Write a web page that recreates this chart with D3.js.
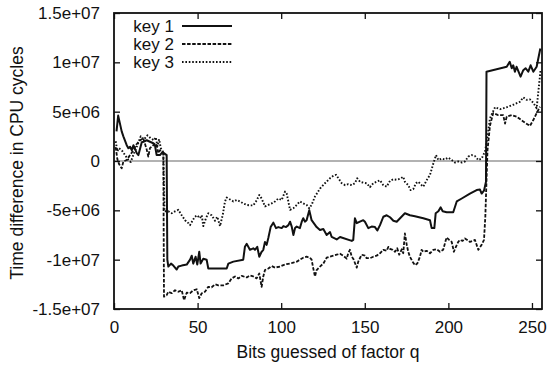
<!DOCTYPE html>
<html>
<head>
<meta charset="utf-8">
<script src="https://cdn.jsdelivr.net/npm/d3@7"></script>
<style>
  body { margin: 0; background: #fff; }
  svg text { font-family: "Liberation Sans", Arial, Helvetica, sans-serif; fill: #111; }
</style>
</head>
<body>
<script>
// values: [bit, time difference in millions of cycles]
var key1 = [[1.5,3.0],[2.5,4.6],[4.6,3.0],[5.6,2.5],[7.6,1.6],[8.6,1.3],[9.6,1.45],[10.6,1.1],[11.6,1.6],[13.6,0.8],[14.6,0.6],[16.6,1.9],[17.6,1.95],[19.6,2.1],[21.5,1.95],[23.5,1.8],[24.5,1.6],[25.5,0.6],[27.5,0.6],[29,0.9],[31.5,0.6],[31.9,-10.0],[32.5,-10.7],[34.1,-10.4],[35.5,-10.6],[37.5,-11.0],[38.5,-10.7],[40.5,-10.6],[43.5,-10.5],[45.5,-10.0],[46.5,-9.6],[47.4,-10.4],[48.8,-9.7],[49.8,-10.5],[51.0,-9.2],[51.8,-10.4],[53.4,-9.9],[55.4,-10.0],[56.4,-10.9],[67.4,-10.9],[68.4,-10.4],[71.4,-10.2],[77.3,-10.0],[78.3,-8.7],[79.4,-8.4],[81.3,-9.0],[83.3,-8.85],[84.3,-9.0],[85.7,-8.7],[86.9,-9.7],[88.3,-9.2],[89.3,-9.0],[90.3,-8.2],[91.3,-8.5],[92.3,-7.8],[93.7,-6.7],[95.3,-6.25],[96.9,-6.8],[98.3,-6.7],[100.3,-6.8],[101.3,-6.6],[102.9,-6.7],[104.3,-6.5],[105.3,-6.15],[106.3,-6.65],[107.3,-7.5],[108.3,-6.8],[109.3,-6.65],[111.2,-6.8],[112.3,-6.15],[113.2,-5.8],[114.2,-6.15],[115.2,-6.0],[116.8,-5.0],[118.2,-6.0],[121.2,-6.7],[123.2,-7.0],[125.2,-6.9],[127.2,-7.5],[129.2,-7.2],[130.2,-7.7],[133.2,-7.95],[135.2,-7.7],[142.2,-8.1],[143.1,-8.0],[144.1,-5.8],[145.2,-6.3],[147.1,-6.15],[149.1,-6.0],[150.1,-6.15],[152.1,-6.8],[154.1,-6.65],[156.1,-6.7],[157.5,-7.05],[159.1,-6.5],[161.1,-5.65],[163.1,-5.5],[165.1,-5.7],[167.1,-6.05],[169.1,-6.15],[171.1,-5.8],[174.0,-5.3],[177.0,-5.5],[180.0,-5.6],[185.0,-5.8],[189.0,-6.0],[190.0,-6.8],[191.6,-6.8],[192.4,-5.3],[194.0,-5.1],[195.4,-4.7],[196.6,-5.1],[199.0,-5.2],[202.9,-5.2],[205.0,-4.1],[208.0,-3.8],[212.9,-3.3],[216.9,-2.95],[218.9,-2.9],[219.9,-3.3],[221.3,-3.0],[222.5,-2.1],[222.8,9.05],[234.9,9.55],[236.7,10.06],[237.9,9.4],[238.8,9.7],[239.8,9.05],[240.8,9.55],[243.2,8.55],[244.8,9.2],[246.2,9.4],[247.8,9.05],[249.2,9.7],[250.8,9.05],[252.8,9.55],[255,11.4]];

var key2 = [[1,1.4],[2,0.2],[3,-0.3],[4.6,-0.75],[5.6,-0.05],[7.6,0.1],[9.6,0.6],[11.6,1.1],[13.5,1.7],[15.6,2.1],[17.5,2.3],[19.5,1.2],[20.5,0.45],[21.5,1.3],[23.5,1.6],[24.5,1.8],[25.5,1.6],[26.5,0.8],[27.5,1.1],[28.5,0.95],[29.5,0.8],[29.9,-13.75],[31.5,-13.6],[32.5,-13.25],[34.5,-13.4],[36.5,-13.1],[38.5,-13.25],[40.5,-13.1],[41.9,-14.1],[43.5,-13.35],[45.5,-13.4],[47.4,-13.1],[49.5,-13.0],[51.0,-13.9],[52.5,-13.4],[54.4,-13.25],[56.4,-12.75],[58.4,-12.8],[60.4,-12.5],[62.4,-12.6],[65.4,-12.6],[68.4,-12.4],[70.4,-11.9],[72.4,-11.7],[74.4,-11.9],[76.4,-11.65],[79.4,-11.8],[81.3,-11.6],[83.3,-11.7],[85.3,-11.9],[86.9,-11.4],[88.3,-12.75],[89.3,-11.7],[90.3,-11.05],[92.3,-10.9],[94.3,-10.65],[96.3,-10.8],[99.3,-10.7],[101.3,-10.55],[103.3,-10.45],[105.3,-10.4],[107.2,-10.3],[109.3,-10.2],[111.2,-10.0],[113.2,-9.8],[115.2,-9.7],[117.2,-9.8],[118.2,-10.0],[119.2,-10.9],[120.2,-11.7],[121.2,-11.05],[123.2,-10.7],[125.2,-10.4],[127.2,-9.8],[129.2,-9.7],[131.2,-9.6],[133.2,-9.5],[135.2,-9.4],[137.1,-9.6],[139.2,-9.9],[140.1,-9.35],[141.1,-9.0],[142.2,-9.7],[143.1,-9.9],[145.2,-10.8],[146.1,-10.2],[148.1,-9.5],[150.1,-9.6],[151.1,-9.85],[153.1,-9.85],[155.1,-9.7],[157.1,-9.6],[159.1,-9.35],[161.1,-9.0],[163.1,-9.1],[164.1,-8.7],[165.1,-8.9],[166.7,-9.0],[168.1,-9.2],[169.4,-8.85],[170.6,-9.5],[172.1,-8.95],[173.0,-9.35],[174.0,-7.35],[175.1,-8.5],[176.0,-9.2],[177.0,-9.7],[178.6,-10.2],[180.0,-10.55],[181.4,-10.4],[183.0,-9.7],[184.0,-9.0],[185.0,-9.2],[187.0,-9.1],[189.0,-9.35],[191.0,-9.0],[193.0,-8.95],[195.0,-9.2],[196.9,-9.0],[198.9,-7.75],[200.5,-8.0],[202.0,-8.2],[203.3,-9.2],[204.5,-8.7],[205.9,-8.2],[206.9,-8.0],[208.5,-8.1],[209.9,-7.85],[211.3,-8.0],[212.9,-8.2],[214.5,-8.1],[215.9,-8.0],[217.3,-8.7],[217.9,-9.0],[219.9,-8.5],[221.3,-8.0],[222.1,-5.65],[223.4,1.1],[224.9,3.6],[226.8,4.85],[229.8,4.65],[232.8,4.65],[233.9,3.8],[234.9,4.5],[237.9,4.65],[240.8,4.5],[244.8,4.0],[248.8,3.55],[250.8,4.15],[252.8,4.85],[254.8,5.5]];

var key3 = [[1,2.0],[2,1.0],[3,1.3],[5,1.0],[7,0.5],[9,0.0],[10,-0.1],[12,0.8],[14,1.6],[16,2.5],[18,2.2],[20,2.6],[22,2.3],[24,2.1],[25,2.4],[26,1.5],[27,2.2],[28,1.3],[29.5,0.9],[30.2,-5.1],[32.5,-5.1],[34.5,-5.3],[36.5,-5.1],[38.5,-4.95],[40.5,-5.5],[42.5,-6.0],[44.5,-6.3],[45.5,-6.5],[47.1,-6.0],[48.4,-5.65],[49.8,-5.5],[51.4,-5.8],[52.5,-5.5],[53.4,-6.6],[55.0,-5.8],[56.4,-5.3],[58.4,-5.5],[60.4,-6.05],[61.8,-5.65],[63.4,-6.6],[65.0,-5.5],[66.4,-4.1],[67.4,-3.7],[69.4,-3.9],[71.4,-4.1],[73.4,-3.95],[75.4,-4.1],[77.3,-4.3],[79.4,-4.45],[81.3,-4.5],[83.3,-4.5],[85.3,-4.0],[86.9,-3.45],[88.3,-3.8],[90.3,-4.6],[92.3,-4.45],[94.3,-4.3],[96.3,-4.1],[98.3,-3.8],[100.3,-3.95],[102.3,-3.1],[103.3,-3.3],[105.3,-4.95],[107.2,-4.8],[109.3,-4.45],[111.2,-4.1],[113.2,-4.3],[115.2,-4.45],[116.8,-4.8],[118.2,-4.45],[120.2,-3.6],[123.2,-2.8],[126.2,-2.25],[129.2,-1.75],[131.2,-1.5],[132.8,-1.4],[134.2,-1.75],[136.2,-2.25],[138.2,-2.45],[140.1,-2.35],[142.2,-2.45],[144.1,-2.25],[145.5,-1.75],[147.1,-2.1],[149.1,-2.2],[151.1,-2.25],[153.1,-2.65],[155.1,-2.25],[157.1,-2.1],[159.1,-1.95],[161.1,-2.45],[163.1,-2.6],[165.1,-2.0],[167.1,-1.85],[169.1,-1.9],[171.1,-1.8],[173.0,-1.6],[174.0,-2.1],[176.0,-2.45],[177.4,-2.95],[179.0,-2.85],[180.6,-2.25],[182.0,-2.1],[184.0,-2.45],[185.0,-2.6],[187.0,-1.95],[189.0,-1.4],[191.0,-0.25],[192.6,0.6],[194.0,0.1],[196.0,0.25],[198.0,0.15],[199.9,0.35],[202.0,0.1],[203.9,-0.15],[205.9,-0.05],[208.0,-0.15],[209.9,-0.05],[211.9,0.45],[213.9,0.6],[215.9,0.5],[217.9,0.1],[219.9,0.25],[221.9,0.95],[223.1,2.1],[224.9,4.35],[227.9,5.45],[230.9,5.25],[234.9,5.45],[238.8,5.7],[242.8,6.0],[244.8,6.45],[246.8,6.2],[248.8,6.25],[250.8,5.9],[252.8,5.35],[255.2,9.3]];

var seriesNames = ["key 1", "key 2", "key 3"];
var xTicks = [0, 50, 100, 150, 200, 250];
var yTicks = [-1.5e7, -1e7, -5e6, 0, 5e6, 1e7, 1.5e7];
var yTickLabels = ["-1.5e+07", "-1e+07", "-5e+06", "0", "5e+06", "1e+07", "1.5e+07"];
var xTitle = "Bits guessed of factor q";
var yTitle = "Time difference in CPU cycles";

var W = 550, H = 368;
var margin = {top: 13, right: 8, bottom: 59, left: 114};
var width = W - margin.left - margin.right,
    height = H - margin.top - margin.bottom;

var svg = d3.select("body").append("svg")
  .attr("width", W)
  .attr("height", H);

var g = svg.append("g")
  .attr("transform", "translate(" + margin.left + "," + margin.top + ")");

var x = d3.scaleLinear().domain([0, 256]).range([0, width]);
var y = d3.scaleLinear().domain([-1.5e7, 1.5e7]).range([height, 0]);

// zero axis line
g.append("line")
  .attr("x1", 0).attr("x2", width)
  .attr("y1", y(0)).attr("y2", y(0))
  .attr("stroke", "#666").attr("stroke-width", 1.1);

// axes, ticks pointing inwards (gnuplot style), mirrored
var fontSize = "17px";
var xAxis = g.append("g")
  .attr("transform", "translate(0," + height + ")")
  .call(d3.axisBottom(x).tickValues(xTicks).tickSize(-6).tickPadding(12));
var yAxis = g.append("g")
  .call(d3.axisLeft(y).tickValues(yTicks).tickSize(-6).tickPadding(14)
    .tickFormat(function(d, i) { return yTickLabels[i]; }));
g.append("g")
  .attr("transform", "translate(" + width + ",0)")
  .call(d3.axisRight(y).tickValues(yTicks).tickSize(-6).tickFormat(""));
g.append("g")
  .call(d3.axisTop(x).tickValues(xTicks).tickSize(-6).tickFormat(""));

g.selectAll(".domain").remove();
g.selectAll(".tick line").attr("stroke", "#111").attr("stroke-width", 1.3);
g.selectAll(".tick text").style("font-size", fontSize).attr("fill", "#111");
xAxis.selectAll(".tick text").attr("dy", "0.72em");

// frame
g.append("rect")
  .attr("width", width).attr("height", height)
  .attr("fill", "none").attr("stroke", "#111").attr("stroke-width", 1.8);

// lines
var line = d3.line()
  .x(function(d) { return x(d[0]); })
  .y(function(d) { return y(d[1] * 1e6); });

var dashes = [null, "3.5,1.6", "1.6,1.8"];
var widths = [2, 1.8, 1.9];
[key1, key2, key3].forEach(function(data, i) {
  g.append("path")
    .datum(data)
    .attr("d", line)
    .attr("fill", "none")
    .attr("stroke", "#111")
    .attr("stroke-width", widths[i])
    .attr("stroke-linejoin", "round")
    .attr("stroke-dasharray", dashes[i]);
});

// legend
var legend = svg.append("g");
seriesNames.forEach(function(name, i) {
  var ly = 26 + i * 18;
  legend.append("text")
    .attr("x", 174).attr("y", ly + 6)
    .attr("text-anchor", "end")
    .style("font-size", fontSize)
    .text(name);
  legend.append("line")
    .attr("x1", 182).attr("x2", 232)
    .attr("y1", ly).attr("y2", ly)
    .attr("stroke", "#111")
    .attr("stroke-width", widths[i])
    .attr("stroke-dasharray", dashes[i]);
});

// axis titles
svg.append("text")
  .attr("x", margin.left + width / 2).attr("y", 358)
  .attr("text-anchor", "middle")
  .style("font-size", "17.5px")
  .text(xTitle);

svg.append("text")
  .attr("transform", "translate(23," + (margin.top + height / 2 + 2) + ") rotate(-90)")
  .attr("text-anchor", "middle")
  .style("font-size", "17.5px")
  .text(yTitle);
</script>
</body>
</html>
